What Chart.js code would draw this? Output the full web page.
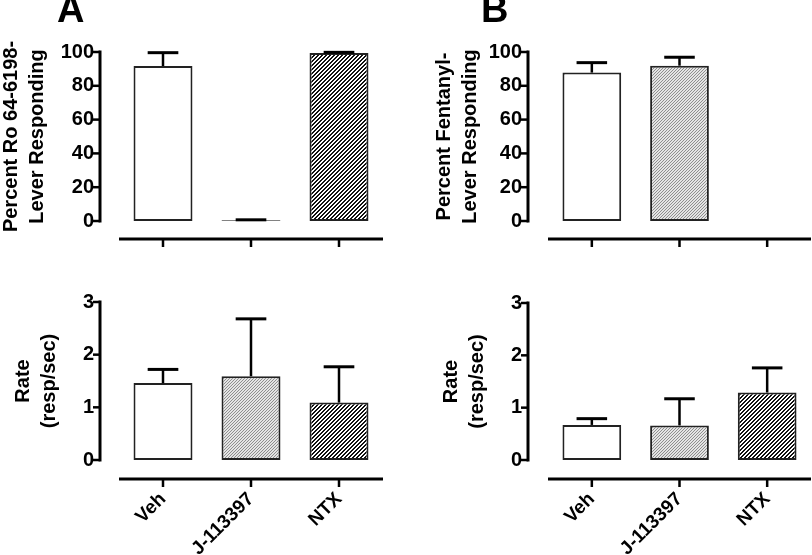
<!DOCTYPE html>
<html>
<head>
<meta charset="utf-8">
<script src="https://cdn.jsdelivr.net/npm/chart.js@4.4.0/dist/chart.umd.min.js"></script>
<style>
  body { margin: 0; background: #fff; }
  #wrap { position: relative; width: 812px; height: 555px; overflow: hidden; }
  canvas { position: absolute; }
  .panel { position: absolute; font: bold 38px "Liberation Sans", Arial, sans-serif; line-height: 1; color: #000; }
</style>
</head>
<body>
<div id="wrap">
  <canvas id="aTop" width="400" height="265" style="left:0;top:0"></canvas>
  <canvas id="bTop" width="412" height="265" style="left:400px;top:0"></canvas>
  <canvas id="aBottom" width="400" height="290" style="left:0;top:265px"></canvas>
  <canvas id="bBottom" width="412" height="290" style="left:400px;top:265px"></canvas>
  <div class="panel" style="left:57px;top:-10px">A</div>
  <div class="panel" style="left:481px;top:-10px">B</div>
</div>
<script>
const categories = ['Veh', 'J-113397', 'NTX'];

// A: Ro 64-6198 trained
const roPercent = [91.7, 0.4, 99.4];
const roPercentSem = [7.9, 0.3, 0.4];
const roRate = [1.46, 1.59, 1.09];
const roRateSem = [0.26, 1.09, 0.68];

// B: fentanyl trained (no NTX test on the lever)
const fentPercent = [87.8, 91.9, null];
const fentPercentSem = [5.9, 5.0, null];
const fentRate = [0.67, 0.66, 1.29];
const fentRateSem = [0.12, 0.51, 0.47];

const percentTicks = [0, 20, 40, 60, 80, 100];
const rateTicks = [0, 1, 2, 3];

const FONT = '"Liberation Sans", Arial, sans-serif';

function hatch(size, ink, paper, lineW) {
    const c = document.createElement('canvas');
    c.width = c.height = size;
    const g = c.getContext('2d');
    g.fillStyle = paper;
    g.fillRect(0, 0, size, size);
    g.fillStyle = ink;
    for (let x = 0; x < size; x++) {
        for (let y = 0; y < size; y++) {
            if ((x + y) % size < lineW) g.fillRect(x, y, 1, 1);
        }
    }
    return g.createPattern(c, 'repeat');
}

const fills = ['#ffffff', hatch(3, '#8e8e8e', '#e4e4e4', 1), hatch(4, '#111111', '#ffffff', 2)];

// prism-style detached axes + error bars (upper half only)
const prismAxes = {
    id: 'prismAxes',
    afterDatasetsDraw(chart, args, o) {
        const { ctx, chartArea: a, scales: { x, y } } = chart;
        const vals = chart.data.datasets[0].data;
        ctx.save();
        ctx.strokeStyle = '#000';

        chart.getDatasetMeta(0).data.forEach((bar, i) => {
            if (vals[i] == null || o.sem[i] == null) return;
            const top = y.getPixelForValue(vals[i] + o.sem[i]);
            ctx.lineWidth = 2.5;
            ctx.beginPath();
            ctx.moveTo(bar.x, bar.y);
            ctx.lineTo(bar.x, top);
            ctx.stroke();
            ctx.lineWidth = 3;
            ctx.beginPath();
            ctx.moveTo(bar.x - bar.width * 0.26, top);
            ctx.lineTo(bar.x + bar.width * 0.26, top);
            ctx.stroke();
        });

        const ax = a.left - o.yGap;
        ctx.lineWidth = 3;
        ctx.beginPath();
        ctx.moveTo(ax, y.getPixelForValue(y.max) - 1.5);
        ctx.lineTo(ax, y.getPixelForValue(y.min) + 1.5);
        ctx.stroke();
        ctx.lineWidth = 2.5;
        y.ticks.forEach(t => {
            const p = y.getPixelForValue(t.value);
            ctx.beginPath();
            ctx.moveTo(ax - 7, p);
            ctx.lineTo(ax, p);
            ctx.stroke();
        });

        const ay = a.bottom + o.xGap;
        ctx.lineWidth = 3;
        ctx.beginPath();
        ctx.moveTo(a.left, ay);
        ctx.lineTo(a.right, ay);
        ctx.stroke();
        ctx.lineWidth = 2.5;
        categories.forEach((c, i) => {
            const p = x.getPixelForValue(i);
            ctx.beginPath();
            ctx.moveTo(p, ay);
            ctx.lineTo(p, ay + 8);
            ctx.stroke();
        });
        ctx.restore();
    }
};

function makePanel(id, values, sem, ticks, title, s) {
    return new Chart(document.getElementById(id), {
        type: 'bar',
        data: {
            labels: categories,
            datasets: [{
                data: values,
                backgroundColor: fills,
                borderColor: '#222',
                borderWidth: 2,
                borderSkipped: false,
                barPercentage: 0.67,
                categoryPercentage: 1
            }]
        },
        options: {
            responsive: false,
            animation: false,
            events: [],
            layout: { padding: { top: s.top, right: s.right, left: 0, bottom: 0 } },
            plugins: {
                legend: { display: false },
                tooltip: { enabled: false },
                prismAxes: { sem: sem, yGap: s.yGap, xGap: s.xGap }
            },
            scales: {
                x: {
                    offset: true,
                    grid: { display: false, drawTicks: false },
                    border: { display: false },
                    ticks: {
                        display: s.labels,
                        autoSkip: false,
                        maxRotation: 45,
                        minRotation: 45,
                        padding: 28,
                        color: '#000',
                        font: { family: FONT, size: 19, weight: 'bold' }
                    },
                    afterFit: sc => { sc.height = s.xHeight; }
                },
                y: {
                    min: ticks[0],
                    max: ticks[ticks.length - 1],
                    grid: { display: false, drawTicks: false },
                    border: { display: false },
                    afterBuildTicks: sc => { sc.ticks = ticks.map(v => ({ value: v })); },
                    ticks: {
                        padding: s.yGap + 6,
                        color: '#000',
                        font: { family: FONT, size: 20, weight: 'bold' }
                    },
                    title: {
                        display: true,
                        text: title,
                        color: '#000',
                        font: { family: FONT, size: 20, weight: 'bold', lineHeight: 1.3 },
                        padding: { top: s.titlePad, bottom: 0 }
                    },
                    afterFit: sc => { sc.width = s.yWidth; }
                }
            }
        },
        plugins: [prismAxes]
    });
}

makePanel('aTop', roPercent, roPercentSem, percentTicks, ['Percent Ro 64-6198-', 'Lever Responding'],
    { top: 52, right: 17, yWidth: 119, xHeight: 44, yGap: 19, xGap: 18, titlePad: -2, labels: false });
makePanel('bTop', fentPercent, fentPercentSem, percentTicks, ['Percent Fentanyl-', 'Lever Responding'],
    { top: 52, right: 1, yWidth: 148, xHeight: 44, yGap: 20, xGap: 18, titlePad: 31, labels: false });
makePanel('aBottom', roRate, roRateSem, rateTicks, ['Rate', '(resp/sec)'],
    { top: 26, right: 17, yWidth: 119, xHeight: 95, yGap: 19, xGap: 19, titlePad: 10, labels: true });
makePanel('bBottom', fentRate, fentRateSem, rateTicks, ['Rate', '(resp/sec)'],
    { top: 26, right: 1, yWidth: 148, xHeight: 95, yGap: 20, xGap: 19, titlePad: 38, labels: true });
</script>
</body>
</html>
